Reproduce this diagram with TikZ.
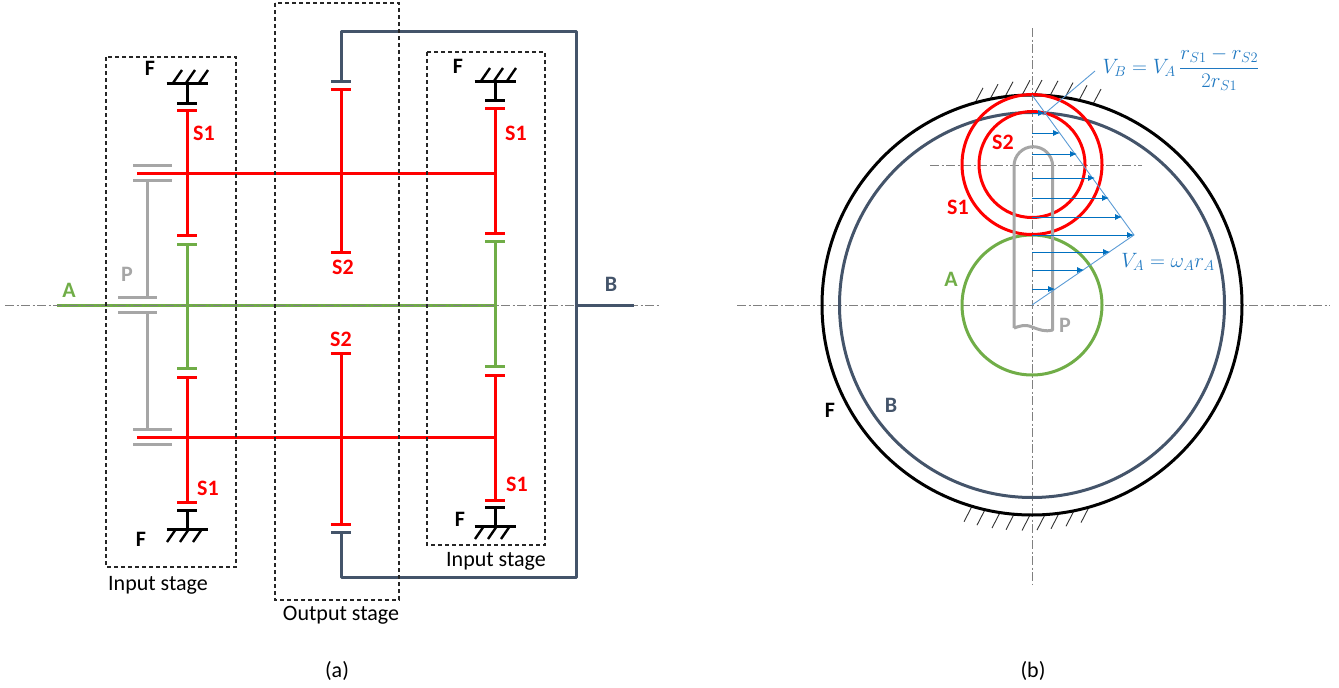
\documentclass[tikz,border=0pt]{standalone}
\usepackage{fontspec}
\setmainfont{Carlito}
\usetikzlibrary{arrows.meta}
\definecolor{gearred}{HTML}{FF0000}
\definecolor{geargreen}{HTML}{70AD47}
\definecolor{gearblue}{HTML}{44546A}
\definecolor{geargray}{HTML}{A6A6A6}
\definecolor{velblue}{HTML}{0070C0}
\definecolor{linblue}{HTML}{5B9BD5}
\definecolor{eqblue}{HTML}{1F78C1}
\begin{document}
\begin{tikzpicture}[x=1pt,y=-1pt,inner sep=0pt,outer sep=0pt,
memberline/.style={line width=3pt,line join=round},
stagebox/.style={draw=black!85,line width=1.1pt,dash pattern=on 4pt off 3pt},
centerline/.style={draw=black!50,line width=0.7pt,dash pattern=on 9pt off 2.5pt on 2pt off 2.5pt},
hatchline/.style={draw=black!80,line width=0.9pt},
groundline/.style={line width=2.4pt},
speedarrow/.style={draw=velblue,line width=0.9pt,-{Latex[length=7pt,width=6pt]}},
gearlabel/.style={font=\fontsize{22}{24}\selectfont\bfseries},
plainlabel/.style={font=\fontsize{22}{24}\selectfont},
eqlabel/.style={text=eqblue,font=\fontsize{20}{24}\selectfont}]
\useasboundingbox (0,0) rectangle (1339,688);
% (a) centre line and shafts
\draw[memberline,geargreen] (57,305) -- (495,305);
\draw[centerline] (5,305) -- (660,305);
% carrier
\draw[memberline,geargray] (147,180) -- (147,297);
\draw[memberline,geargray] (147,312) -- (147,429);
\foreach \y in {165,180,429,444}
  \draw[memberline,geargray] (133,\y) -- (172,\y);
\foreach \y in {297,312}
  \draw[memberline,geargray] (118,\y) -- (157,\y);
% planets
\draw[memberline,gearred] (137,173) -- (495,173);
\draw[memberline,gearred] (137,437) -- (495,437);
\draw[memberline,gearred] (187,110) -- (187,235);
\draw[memberline,gearred] (187,377) -- (187,502);
\draw[memberline,gearred] (495,108) -- (495,233);
\draw[memberline,gearred] (495,375) -- (495,500);
\draw[memberline,gearred] (341,89) -- (341,252);
\draw[memberline,gearred] (341,353) -- (341,524);
\foreach \x/\y in {187/110,187/235,187/377,187/502,495/108,495/233,495/375,495/500,341/89,341/252,341/353,341/524}
  \draw[memberline,gearred] (\x-10,\y) -- (\x+10,\y);
% sun gear A
\draw[memberline,geargreen] (187,244) -- (187,368);
\draw[memberline,geargreen] (495,241) -- (495,366);
\foreach \x/\y in {187/244,187/368,495/241,495/366}
  \draw[memberline,geargreen] (\x-10,\y) -- (\x+10,\y);
% output B
\draw[memberline,gearblue] (341,81) -- (341,31) -- (576,31) -- (576,577) -- (341,577) -- (341,532);
\draw[memberline,gearblue] (576,305) -- (634,305);
\foreach \y in {81,532}
  \draw[memberline,gearblue] (331,\y) -- (351,\y);
% frame supports
\foreach \x/\ya/\yb/\yc/\off in {187/83/103/-1/0,187/529/510/1/3,495/81/100/-1/0,495/526/507/1/3}{
  \draw[memberline,black] (\x,\ya) -- (\x,\yb);
  \draw[memberline,black] (\x-10,\yb) -- (\x+10,\yb);
  \draw[memberline,black] (\x-20.5,\ya) -- (\x+20.5,\ya);
  \foreach \dx in {-14,-1,12}
    \draw[groundline,black] (\x+\dx+\off,\ya) -- ++(-9*\yc,13*\yc);
}
% stage boxes
\draw[stagebox] (106,57) rectangle (236,567);
\draw[stagebox] (275,3) rectangle (399,600);
\draw[stagebox] (427,52) rectangle (545,545);
% (a) labels
\node[gearlabel] (F1) at (150,68) {F};
\node[gearlabel] (F2) at (141,539) {F};
\node[gearlabel] (F3) at (458,66) {F};
\node[gearlabel] (F4) at (460,519) {F};
\node[gearlabel,text=gearred] (S1a) at (204,133) {S1};
\node[gearlabel,text=gearred] (S1b) at (208,488) {S1};
\node[gearlabel,text=gearred] (S1c) at (516,133) {S1};
\node[gearlabel,text=gearred] (S1d) at (517,484) {S1};
\node[gearlabel,text=gearred] (S2a) at (343,267) {S2};
\node[gearlabel,text=gearred] (S2b) at (341,339) {S2};
\node[gearlabel,text=geargray] (Pa) at (127,274) {P};
\node[gearlabel,text=geargreen] (Aa) at (69,290) {A};
\node[gearlabel,text=gearblue] (Ba) at (611,284) {B};
\node[plainlabel] (in1) at (158,585) {Input stage};
\node[plainlabel] (in2) at (496,561) {Input stage};
\node[plainlabel] (out) at (341,615) {Output stage};
\node[plainlabel] (capa) at (337,671) {(a)};
% (b) centre lines
\draw[centerline] (737,305) -- (1330,305);
\draw[centerline] (1032,28) -- (1032,585);
\draw[centerline] (930,165) -- (1142,165);
% (b) frame hatching
\foreach \dx in {-57,-42,-27,-10,2,18,33,47,61}
  \draw[hatchline] (1032+\dx,{305-10*sqrt(21^2-(\dx/10)^2)}) -- ++(8,-15);
\foreach \dx in {-60,-47,-32,-18,-2,13,27,42,57}
  \draw[hatchline] (1032+\dx,{305+10*sqrt(21^2-(\dx/10)^2)}) -- ++(-8,15.5);
% (b) circles
\draw[memberline,black] (1032,305) circle (210);
\draw[memberline,gearblue] (1032,305) circle (192.5);
\draw[memberline,geargreen] (1032,305) circle (70);
\draw[memberline,gearred] (1032,164.5) circle (70);
\draw[memberline,gearred] (1032,164.5) circle (53);
% carrier arm
\draw[memberline,geargray] (1014,328) -- (1014,166) arc[start angle=180,end angle=360,radius=19.3] -- (1052.6,330)
  .. controls (1045,332) and (1040,330) .. (1032,327) .. controls (1025,324) and (1020,326) .. (1014,328);
% velocity profile
\draw[draw=linblue,line width=0.9pt] (1032,95) -- (1134,235) -- (1032,305);
\draw[draw=linblue,line width=0.9pt] (1095,71) -- (1043,115);
\foreach \y/\x in {113/1045,133/1060,154/1077,178/1095,198/1109,217/1122,235/1134,252/1110,270/1084,289/1055}
  \draw[speedarrow] (1032,\y) -- (\x,\y);
% (b) labels
\node[eqlabel] (VB) at (1181,69) {$\displaystyle V_B=V_A\,\frac{r_{S1}-r_{S2}}{2r_{S1}}$};
\node[eqlabel] (VA) at (1168,262) {$V_A=\omega_A r_A$};
\node[gearlabel,text=gearred] (S2c) at (1003,142) {S2};
\node[gearlabel,text=gearred] (S1e) at (958,207) {S1};
\node[gearlabel,text=geargreen] (Ab) at (951,279) {A};
\node[gearlabel,text=geargray] (Pb) at (1065,325) {P};
\node[gearlabel] (Fb) at (830,410) {F};
\node[gearlabel,text=gearblue] (Bb) at (891,405) {B};
\node[plainlabel] (capb) at (1033,671) {(b)};
\end{tikzpicture}
\end{document}
